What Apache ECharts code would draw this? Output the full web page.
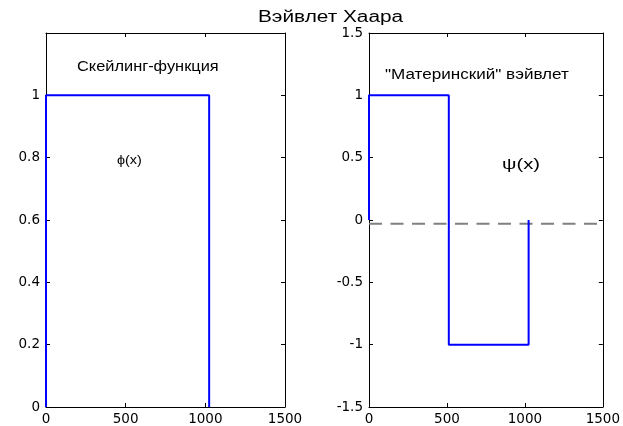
<!DOCTYPE html>
<html><head><meta charset="utf-8">
<script src="https://cdn.jsdelivr.net/npm/echarts@6/dist/echarts.min.js"></script>
<style>html,body{margin:0;padding:0;background:#fff}#c{width:623px;height:426px}</style>
</head><body><div id="c"></div>
<script>
// Data
const titleText = 'Вэйвлет Хаара';
const leftLabel = 'Скейлинг-функция';
const rightLabel = '"Материнский" вэйвлет';
const phiLabel = 'ϕ(x)';
const psiLabel = 'ψ(x)';
const phiX = [0, 0, 1024, 1024];
const phiY = [0, 1, 1, 0];
const psiX = [0, 0, 512, 512, 1024, 1024];
const psiY = [0, 1, 1, -1, -1, 0];
const zeroLineX = [0, 1500];
const zeroLineY = [-0.03, -0.03];
const xTicks = [0, 500, 1000, 1500];
const leftYTicks = [0, 0.2, 0.4, 0.6, 0.8, 1];
const rightYTicks = [-1.5, -1, -0.5, 0, 0.5, 1, 1.5];

const FONT = '"Liberation Sans", Arial, sans-serif';
const TICKFONT = '"DejaVu Sans", sans-serif';
const chart = echarts.init(document.getElementById('c'));
const pairs = (xs, ys) => xs.map((x, i) => [x, ys[i]]);

const grids = [
  {left: 46, right: 338, top: 33, bottom: 18},
  {left: 369, right: 13, top: 33, bottom: 18}
];
function xAxis(gi, pos, showLabel) {
  return {type: 'value', gridIndex: gi, position: pos, min: 0, max: 1500, interval: 500,
    axisLine: {show: true, onZero: false, lineStyle: {color: '#000', width: 1}},
    axisTick: {show: true, inside: true, length: 4, lineStyle: {color: '#000'}},
    axisLabel: {show: showLabel, color: '#000', fontFamily: TICKFONT, fontSize: 13.5, margin: 5,
      formatter: v => xTicks.includes(v) ? String(v) : ''},
    splitLine: {show: false}};
}
function yAxis(gi, pos, showLabel, min, max, interval, ticks) {
  return {type: 'value', gridIndex: gi, position: pos, min, max, interval,
    axisLine: {show: true, onZero: false, lineStyle: {color: '#000', width: 1}},
    axisTick: {show: true, inside: true, length: 4, lineStyle: {color: '#000'}},
    axisLabel: {show: showLabel, color: '#000', fontFamily: TICKFONT, fontSize: 13.5, margin: 6,
      formatter: v => ticks.some(t => Math.abs(t - v) < 1e-9) ? String(+v.toFixed(1)) : ''},
    splitLine: {show: false}};
}
function txt(text, x, y, size, sx) {
  return {type: 'text', x, y, scaleX: sx, silent: true,
    style: {text, font: size + 'px ' + FONT, fill: '#000', align: 'left', verticalAlign: 'middle'}};
}

chart.setOption({
  animation: false,
  backgroundColor: '#fff',
  grid: grids,
  xAxis: [xAxis(0, 'bottom', true), xAxis(0, 'top', false), xAxis(1, 'bottom', true), xAxis(1, 'top', false)],
  yAxis: [yAxis(0, 'left', true, 0, 1.2, 0.2, leftYTicks), yAxis(0, 'right', false, 0, 1.2, 0.2, leftYTicks),
          yAxis(1, 'left', true, -1.5, 1.5, 0.5, rightYTicks), yAxis(1, 'right', false, -1.5, 1.5, 0.5, rightYTicks)],
  series: [
    {type: 'line', xAxisIndex: 0, yAxisIndex: 0, data: pairs(phiX, phiY), showSymbol: false,
      lineStyle: {color: '#0000ff', width: 2}, z: 5},
    {type: 'line', xAxisIndex: 2, yAxisIndex: 2, data: pairs(zeroLineX, zeroLineY), showSymbol: false,
      lineStyle: {color: '#808080', width: 1.8, type: [13, 8.5]}, z: 3},
    {type: 'line', xAxisIndex: 2, yAxisIndex: 2, data: pairs(psiX, psiY), showSymbol: false,
      lineStyle: {color: '#0000ff', width: 2}, z: 5}
  ],
  graphic: [
    txt(titleText, 258, 18, 16, 1.3),
    txt(leftLabel, 77, 67, 14, 1.17),
    txt(rightLabel, 385, 75, 14, 1.22),
    txt(phiLabel, 117, 161, 12, 1.2),
    txt(psiLabel, 502, 165, 15, 1.35)
  ]
});
</script></body></html>
